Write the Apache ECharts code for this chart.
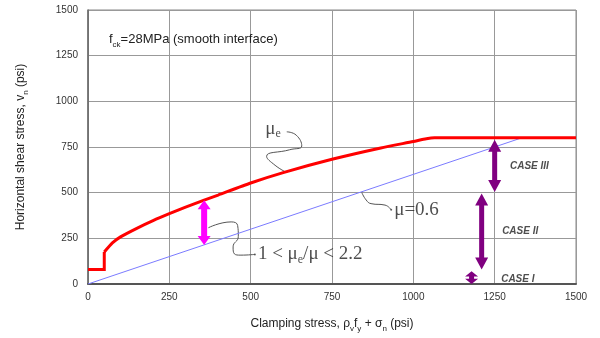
<!DOCTYPE html>
<html><head><meta charset="utf-8">
<script src="https://cdn.jsdelivr.net/npm/echarts@6/dist/echarts.min.js"></script>
<style>html,body{margin:0;padding:0;background:#fff}#c{width:600px;height:338px}</style>
</head><body><div id="c"></div>
<script>
// ---- data ----
const xTicks = [0, 250, 500, 750, 1000, 1250, 1500];
const yTicks = [0, 250, 500, 750, 1000, 1250, 1500];
// mu_e curve (red): initial step, then the rising part
const stepX = [0, 50, 50];
const stepY = [80, 80, 175];
const muEX = [50, 75, 100, 150, 200, 250, 300, 357, 400, 500, 600, 750, 900, 1000, 1040, 1065, 1500];
const muEY = [175, 225, 258, 305, 347, 385, 421, 459, 487, 553, 610, 683, 745, 780, 795, 800, 800];
// mu = 0.6 line (blue)
const muX = [0, 1333, 1500];
const muY = [0, 800, 800];
// double arrows: x, low, high
const magArrowX = [357], magArrowLo = [214], magArrowHi = [459];
const caseArrowX = [1250, 1210, 1179], caseArrowLo = [503, 80, 0], caseArrowHi = [790, 496, 70];
// leader squiggles
const leadMuEX = [611, 640, 657, 620, 549, 575, 611];
const leadMuEY = [833, 815, 756, 735, 699, 650, 610];
const leadMuX = [841, 855, 870, 913, 932];
const leadMuY = [503, 460, 440, 432, 406];
const leadRatioX = [370, 440, 460, 462, 446, 450, 470, 513];
const leadRatioY = [308, 340, 320, 260, 203, 165, 158, 162];
// annotation anchor points
const labelMuE = [605, 850];
const labelMu = [932, 406];
const labelRatio = [513, 162];
const caseLabelX = [1297, 1273, 1270];
const caseLabelY = [646, 288, 27];
const caseNames = ['CASE III', 'CASE II', 'CASE I'];

const zip = (a, b) => a.map((v, i) => [v, b[i]]);

function arrowRender(shaftW, headW, headL) {
  return function (params, api) {
    const x = api.value(0), lo = api.value(1), hi = api.value(2);
    const t = api.coord([x, hi]), b = api.coord([x, lo]);
    const cx = t[0], top = t[1], bot = b[1];
    const hl = Math.min(headL, (bot - top) / 2.4);
    const hw = headW / 2, sw = shaftW / 2;
    return {
      type: 'polygon',
      shape: { points: [
        [cx, top], [cx + hw, top + hl], [cx + sw, top + hl], [cx + sw, bot - hl], [cx + hw, bot - hl],
        [cx, bot], [cx - hw, bot - hl], [cx - sw, bot - hl], [cx - sw, top + hl], [cx - hw, top + hl]
      ] },
      style: { fill: api.visual('color') }
    };
  };
}

const serif = 'Liberation Serif';
const richSerif = {
  m: { fontFamily: serif, fontSize: 19, color: '#222', lineHeight: 22 },
  s: { fontFamily: serif, fontSize: 12, color: '#222', lineHeight: 22, verticalAlign: 'bottom' }
};
const sans = 'Liberation Sans';
const richSans = (fs) => ({
  m: { fontFamily: sans, fontSize: fs, fontWeight: 'normal', color: '#222', lineHeight: fs + 6 },
  s: { fontFamily: sans, fontSize: Math.round(fs * 0.65), fontWeight: 'normal', color: '#222', lineHeight: fs + 6, verticalAlign: 'bottom' }
});

const chart = echarts.init(document.getElementById('c'), null, { renderer: 'canvas' });
chart.setOption({
  animation: false,
  backgroundColor: '#fff',
  title: {
    text: '{m|f}{s|ck}{m|=28MPa (smooth interface)}',
    left: 104, top: 25,
    textStyle: { fontWeight: 'normal', rich: richSans(13) }
  },
  grid: { left: 88, right: 24, top: 10, bottom: 47, show: true, borderColor: '#888', borderWidth: 1 },
  xAxis: {
    type: 'value', min: 0, max: 1500, interval: 250,
    name: '{m|Clamping stress, ρ}{s|v}{m|f}{s|y}{m| + σ}{s|n}{m| (psi)}',
    nameLocation: 'middle', nameGap: 31,
    nameTextStyle: { rich: richSans(12) },
    axisLine: { lineStyle: { color: '#555', width: 2 } },
    axisTick: { show: false },
    axisLabel: { color: '#333', fontSize: 10, fontFamily: sans, margin: 8, formatter: v => String(v) },
    splitLine: { lineStyle: { color: '#999', width: 1 } }
  },
  yAxis: {
    type: 'value', min: 0, max: 1500, interval: 250,
    name: '{m|Horizontal shear stress, v}{s|n}{m| (psi)}',
    nameLocation: 'middle', nameGap: 58, nameRotate: 90,
    nameTextStyle: { rich: richSans(12) },
    axisLine: { show: true, lineStyle: { color: '#666', width: 1.5 } },
    axisTick: { show: false },
    axisLabel: { color: '#333', fontSize: 10, fontFamily: sans, margin: 10, formatter: v => String(v) },
    splitLine: { lineStyle: { color: '#999', width: 1 } }
  },
  series: [
    { type: 'line', data: zip(muX, muY), symbol: 'none', lineStyle: { color: '#7b7bff', width: 1 }, z: 3 },
    { type: 'line', data: zip(stepX, stepY), symbol: 'none', lineStyle: { color: '#ff0000', width: 3, join: 'miter' }, z: 4 },
    { type: 'line', data: zip(muEX, muEY), symbol: 'none', smooth: 0.2, lineStyle: { color: '#ff0000', width: 3 }, z: 4 },
    { type: 'line', data: zip(leadMuEX, leadMuEY), smooth: 0.5, symbol: 'none', lineStyle: { color: '#555', width: 1 }, z: 2 },
    { type: 'line', data: zip(leadMuX, leadMuY), smooth: 0.5, symbol: 'none', lineStyle: { color: '#555', width: 1 }, z: 2 },
    { type: 'line', data: zip(leadRatioX, leadRatioY), smooth: 0.5, symbol: 'none', lineStyle: { color: '#555', width: 1 }, z: 2 },
    { type: 'custom', renderItem: arrowRender(6, 13, 9), itemStyle: { color: '#ff00ff' },
      data: magArrowX.map((x, i) => [x, magArrowLo[i], magArrowHi[i]]), z: 5 },
    { type: 'custom', renderItem: arrowRender(5, 13, 12), itemStyle: { color: '#800080' },
      data: caseArrowX.map((x, i) => [x, caseArrowLo[i], caseArrowHi[i]]), z: 5 },
    { type: 'scatter', symbolSize: 2, itemStyle: { color: '#444' }, z: 6,
      data: [
        { value: labelMuE, symbolSize: 0, label: { show: true, position: 'left', distance: 4, formatter: '{m|μ}{s|e}', rich: richSerif } },
        { value: labelMu, label: { show: true, position: 'right', distance: 2, formatter: '{m|μ=0.6}', rich: richSerif } },
        { value: labelRatio, label: { show: true, position: 'right', distance: 2, formatter: '{m|1 < μ}{s|e}{m|/μ < 2.2}', rich: richSerif } }
      ] },
    { type: 'scatter', symbolSize: 0, z: 6,
      data: caseLabelX.map((x, i) => ({ value: [x, caseLabelY[i]], name: caseNames[i] })),
      label: { show: true, position: 'right', distance: 0, formatter: '{b}',
        fontFamily: sans, fontSize: 10, fontWeight: 'bold', fontStyle: 'italic', color: '#222' } }
  ]
});
</script></body></html>
